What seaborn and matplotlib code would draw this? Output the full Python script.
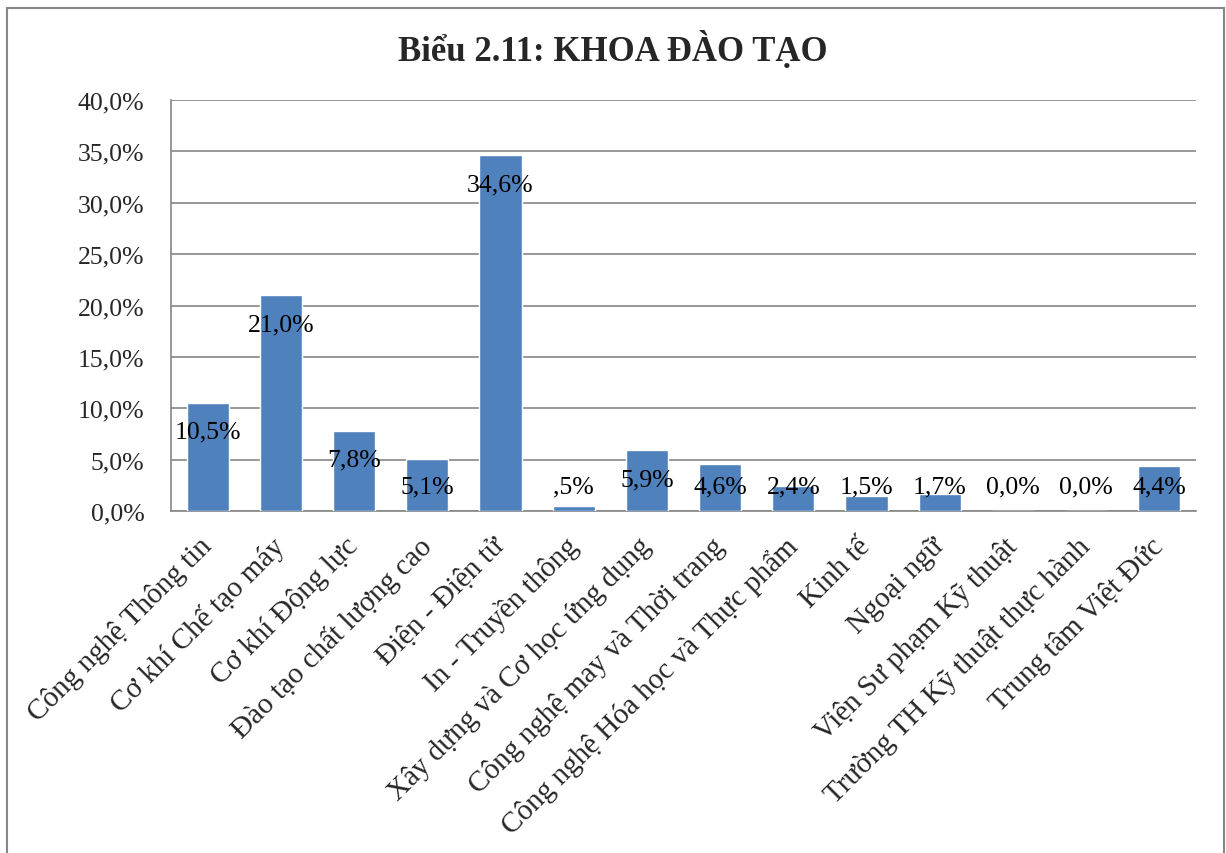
import matplotlib.pyplot as plt
import matplotlib.patches as mpatches
import pandas as pd
import seaborn as sns

sns.set_style("white")
plt.rcParams["font.family"] = ["Liberation Serif", "DejaVu Serif"]

# Dữ liệu
khoa = ["Công nghệ Thông tin", "Cơ khí Chế tạo máy", "Cơ khí Động lực",
        "Đào tạo chất lượng cao", "Điện - Điện tử", "In - Truyền thông",
        "Xây dựng và Cơ học ứng dụng", "Công nghệ may và Thời trang",
        "Công nghệ Hóa học và Thực phẩm", "Kinh tế", "Ngoại ngữ",
        "Viện Sư phạm Kỹ thuật", "Trường TH Kỹ thuật thực hành",
        "Trung tâm Việt Đức"]
ty_le = [10.5, 21.0, 7.8, 5.1, 34.6, 0.5, 5.9, 4.6, 2.4, 1.5, 1.7, 0.0, 0.0, 4.4]
nhan = ["10,5%", "21,0%", "7,8%", "5,1%", "34,6%", ",5%", "5,9%", "4,6%",
        "2,4%", "1,5%", "1,7%", "0,0%", "0,0%", "4,4%"]
y_ticks = [0, 5, 10, 15, 20, 25, 30, 35, 40]
y_tick_labels = ["0,0%", "5,0%", "10,0%", "15,0%", "20,0%", "25,0%",
                 "30,0%", "35,0%", "40,0%"]

df = pd.DataFrame({"Khoa": khoa, "TyLe": ty_le})

fig = plt.figure(figsize=(12.26, 8.54), dpi=100)
ax = fig.add_axes([171 / 1226, 1 - 512 / 854, (1196 - 171) / 1226, (512 - 101) / 854])

sns.barplot(data=df, x="Khoa", y="TyLe", color="#4F81BD", saturation=1,
            width=0.575, ax=ax, zorder=3)

ax.set_ylim(0, 40)
ax.set_xlim(-0.5, len(khoa) - 0.5)
ax.set_yticks(y_ticks)
ax.set_yticklabels(y_tick_labels, fontsize=18.5)
ax.set_xticks(range(len(khoa)))
ax.set_xticklabels(khoa, rotation=45, ha="right", va="center",
                   rotation_mode="anchor", fontsize=21)
ax.tick_params(axis="y", length=0, pad=19)
ax.tick_params(axis="x", length=0, pad=22)
ax.set_xlabel("")
ax.set_ylabel("")
ax.yaxis.grid(True, color="#868686", linewidth=1.2, zorder=0)
for s in ["top", "right"]:
    ax.spines[s].set_visible(False)
for s in ["left", "bottom"]:
    ax.spines[s].set_color("#868686")
    ax.spines[s].set_linewidth(1.2)

# Nhãn dữ liệu
for i, (v, t) in enumerate(zip(ty_le, nhan)):
    ax.text(i, max(v - 2.8, 2.4), t, ha="center", va="center", fontsize=18.5,
            color="black", zorder=4)

fig.text(0.5, 1 - 50 / 854, "Biểu 2.11: KHOA ĐÀO TẠO", ha="center", va="center",
         fontsize=25, fontweight="bold")

# Khung ngoài
fig.patches.append(mpatches.Rectangle((7 / 1226, -0.05), (1224 - 7) / 1226, 1.05 - 9 / 854,
                                      transform=fig.transFigure, fill=False,
                                      edgecolor="#868686", linewidth=1.5))

fig.savefig("out.png", dpi=100)
